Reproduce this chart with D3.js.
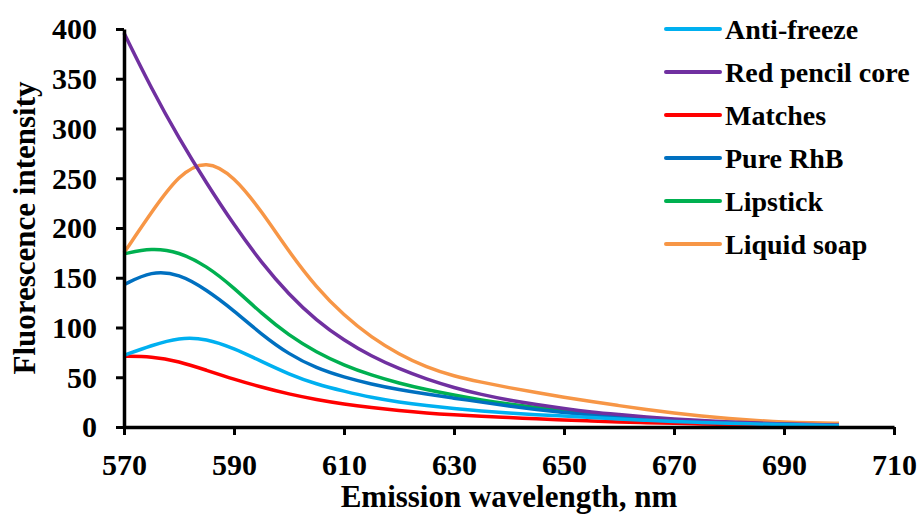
<!DOCTYPE html>
<html>
<head>
<meta charset="utf-8">
<script src="https://cdn.jsdelivr.net/npm/d3@7"></script>
<style>
  body { margin: 0; background: #fff; }
  svg text { font-family: "Liberation Serif", "Times New Roman", Times, "DejaVu Serif", serif !important; font-weight: bold; }
</style>
</head>
<body>
<div id="chart"></div>
<script>
// wavelengths, nm (5 nm step)
const wavelengths = d3.range(570, 701, 5);

const antiFreeze = [72, 82, 90, 89, 79, 66, 53, 43, 36, 29.5, 25, 21.5, 18.5, 16, 14, 12.3, 11, 9.5, 8, 6.7, 5.5, 4.5, 3.6, 3, 2.5, 2, 1.5];
const redPencil  = [396, 340, 290, 245, 203, 165, 133, 107, 87, 71, 58.5, 48, 39.5, 32.5, 27, 22.5, 18.5, 15, 12.5, 10, 8, 6.5, 5, 4, 3, 2.5, 2];
const matches    = [71, 71, 66, 57, 48, 40, 33, 27.5, 23, 19.5, 16.5, 14, 12.2, 10.7, 9.5, 8.3, 7.1, 6, 5, 4.3, 3.7, 3, 2.5, 2, 1.5, 1.2, 1];
const pureRhB    = [143, 157, 154, 138, 117, 93, 73, 59, 50, 43, 37.5, 33, 29, 25, 21, 17.5, 14.5, 12, 10, 8.5, 7, 5.5, 4.5, 3.5, 2.5, 2, 1.5];
const lipstick   = [174, 180, 176, 162, 140, 114, 92, 75, 62, 52, 44, 37.5, 32, 27, 23, 19.5, 16.5, 13.5, 11, 9, 7.2, 5.7, 4.5, 3.5, 2.7, 2, 1.5];
const liquidSoap = [175, 216, 254, 269, 252, 217, 176, 140, 112, 90, 73, 60, 51, 45, 39.5, 34.5, 30, 25.5, 21.5, 17.5, 14, 11, 8.5, 6.5, 5, 4.2, 3.7];

const seriesNames = ["Anti-freeze", "Red pencil core", "Matches", "Pure RhB", "Lipstick", "Liquid soap"];
const seriesValues = [antiFreeze, redPencil, matches, pureRhB, lipstick, liquidSoap];
const seriesColors = ["#00B0F0", "#7030A0", "#FF0000", "#0070C0", "#00B050", "#F79646"];

const xTicks = [570, 590, 610, 630, 650, 670, 690, 710];
const yTicks = [0, 50, 100, 150, 200, 250, 300, 350, 400];

const width = 920, height = 514;
const margin = { top: 29, right: 26, bottom: 87, left: 124 };

const svg = d3.select("#chart").append("svg")
  .attr("width", width)
  .attr("height", height);

const x = d3.scaleLinear().domain([570, 710]).range([margin.left, width - margin.right]);
const y = d3.scaleLinear().domain([0, 400]).range([height - margin.bottom, margin.top]);

// curves, smoothed like the spreadsheet original
const line = d3.line()
  .x((d, i) => x(wavelengths[i]))
  .y(d => y(d))
  .curve(d3.curveBasis);

const order = [5, 4, 3, 2, 1, 0];
svg.append("g").selectAll("path")
  .data(order.map(i => ({ vals: seriesValues[i], color: seriesColors[i] })))
  .enter()
  .append("path")
  .attr("fill", "none")
  .attr("stroke", d => d.color)
  .attr("stroke-width", 3.5)
  .attr("d", d => line(d.vals));

// axes
const xAxis = svg.append("g")
  .attr("transform", `translate(0,${y(0)})`)
  .call(d3.axisBottom(x).tickValues(xTicks).tickSize(8).tickSizeOuter(0).tickFormat(d3.format("d")));

const yAxis = svg.append("g")
  .attr("transform", `translate(${x(570)},0)`)
  .call(d3.axisLeft(y).tickValues(yTicks).tickSize(8).tickSizeOuter(0));

[xAxis, yAxis].forEach(g => {
  g.attr("font-family", null);
  g.select(".domain").attr("stroke", "#000").attr("stroke-width", 3.5);
  g.selectAll(".tick line").attr("stroke", "#000").attr("stroke-width", 3);
  g.selectAll("text")
    .attr("fill", "#000")
    .style("font-size", "30px");
});
xAxis.selectAll("text").attr("dy", null).attr("y", 48);
yAxis.selectAll("text").attr("x", -27).attr("dy", "0.33em");

// axis titles
svg.append("text")
  .attr("x", (x(570) + x(710)) / 2)
  .attr("y", 507)
  .attr("text-anchor", "middle")
  .attr("font-size", 31)
  .text("Emission wavelength, nm");

svg.append("text")
  .attr("transform", `translate(35,${(y(0) + y(400)) / 2}) rotate(-90)`)
  .attr("text-anchor", "middle")
  .attr("font-size", 31)
  .text("Fluorescence intensity");

// legend
const legend = svg.append("g").attr("transform", "translate(666,29)");
const items = legend.selectAll("g")
  .data(seriesNames)
  .enter()
  .append("g")
  .attr("transform", (d, i) => `translate(0,${i * 43})`);

items.append("line")
  .attr("x1", 0).attr("x2", 54)
  .attr("stroke", (d, i) => seriesColors[i])
  .attr("stroke-width", 4)
  .attr("stroke-linecap", "round");

items.append("text")
  .attr("x", 59)
  .attr("y", 10)
  .attr("font-size", 28)
  .text(d => d);
</script>
</body>
</html>
